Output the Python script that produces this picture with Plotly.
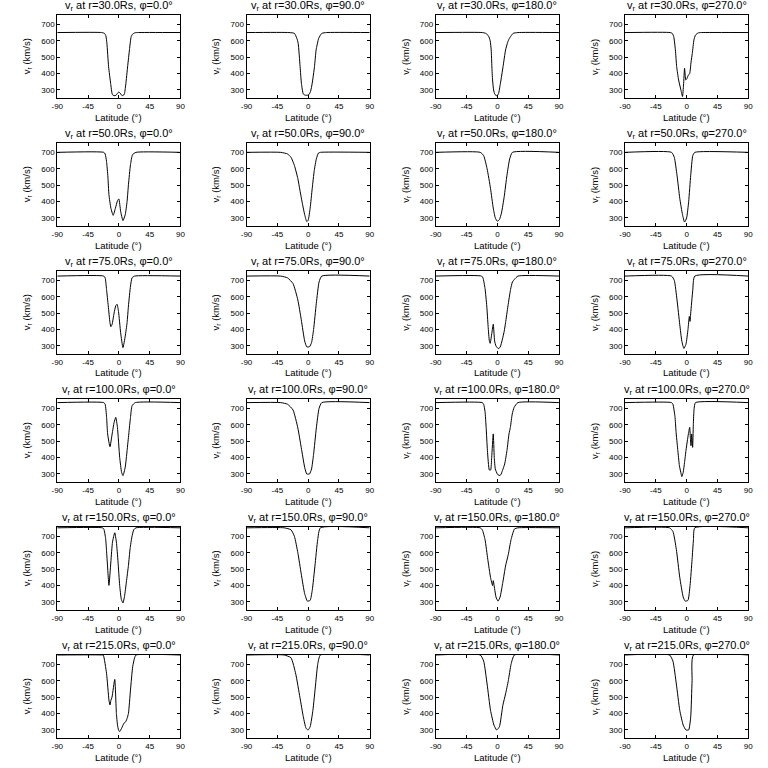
import plotly.graph_objects as go

# ---------------- data ----------------
radii = [30.0, 50.0, 75.0, 100.0, 150.0, 215.0]
phis = [0.0, 90.0, 180.0, 270.0]
x_ticks = [-90, -45, 0, 45, 90]
y_ticks = [300, 400, 500, 600, 700]

# r = 30 Rs
lat_r30_p0 = [-90, -25, -21, -19, -17.5, -15, -12, -9.5, -7, -4, -2, 0, 2, 4, 6, 8, 10, 13, 15.5, 18, 20, 23, 27, 90]
v_r30_p0 = [650, 650, 645, 630, 585, 442, 340, 272, 265, 268, 280, 288, 280, 268, 265, 275, 330, 450, 545, 625, 640, 648, 650, 650]
lat_r30_p90 = [-90, -28, -20, -16.5, -14.5, -11.7, -9.8, -7, -4, -1, 1.2, 3.5, 6, 9.3, 11.7, 15.5, 20, 27, 90]
v_r30_p90 = [650, 650, 645, 615, 584, 442, 341, 275, 268, 268, 272, 290, 341, 442, 544, 615, 645, 650, 650]
lat_r30_p180 = [-90, -22, -17, -13, -10.5, -9, -8, -7, -5.5, -3.5, -1, 1.5, 4.5, 8.3, 12, 15, 17, 20, 23, 30, 90]
v_r30_p180 = [650, 650, 645, 630, 600, 544, 440, 361, 300, 272, 265, 275, 341, 442, 544, 590, 610, 630, 645, 650, 650]
lat_r30_p270 = [-90, -24, -21, -18.8, -16.4, -14.5, -11.7, -8.3, -6, -4.5, -3, -1.2, 0.5, 2.6, 4.5, 6.5, 8.3, 10.7, 13, 17, 22, 90]
v_r30_p270 = [650, 650, 645, 625, 544, 442, 361, 300, 260, 330, 432, 361, 370, 391, 400, 470, 523, 605, 635, 648, 650, 650]

# r = 50 Rs
lat_r50_p0 = [-90, -22, -20, -18, -16, -14.5, -11.7, -8.3, -5, -2, 0, 2.6, 6, 9.3, 12, 14, 17, 20, 25, 90]
v_r50_p0 = [700, 700, 690, 645, 550, 442, 361, 316, 360, 405, 416, 341, 284, 320, 401, 503, 625, 686, 700, 700]
lat_r50_p90 = [-90, -40, -30, -25, -20, -15, -12, -8, -5, -2, 0, 3, 6, 9, 12, 15, 18, 90]
v_r50_p90 = [700, 700, 690, 670, 620, 540, 470, 380, 320, 278, 285, 360, 480, 590, 660, 695, 700, 700]
lat_r50_p180 = [-90, -25, -20, -15, -10, -6, -3, 0, 3, 6, 10, 14, 18, 22, 90]
v_r50_p180 = [700, 700, 680, 600, 480, 360, 300, 280, 290, 330, 430, 560, 660, 700, 700]
lat_r50_p270 = [-90, -22, -18, -14, -10, -6, -3, 0, 3, 6, 9, 12, 90]
v_r50_p270 = [700, 700, 670, 560, 420, 320, 275, 300, 400, 560, 680, 700, 700]

# r = 75 Rs
lat_r75_p0 = [-90, -22, -20, -18, -15.5, -13, -11.7, -10, -7, -4.5, -2.6, -0.5, 2.6, 6, 9.3, 12, 14, 17, 19.3, 23, 90]
v_r75_p0 = [726, 726, 715, 645, 544, 442, 418, 430, 500, 545, 554, 510, 381, 290, 360, 442, 544, 665, 716, 726, 726]
lat_r75_p90 = [-90, -40, -30, -22, -15, -10, -5, -2, 2, 5, 8, 12, 16, 20, 90]
v_r75_p90 = [726, 726, 715, 680, 580, 460, 330, 295, 295, 320, 400, 560, 690, 726, 726]
lat_r75_p180 = [-90, -23, -21, -18, -15.5, -13.5, -11.7, -10.5, -8, -6, -4, -2, 1.2, 4, 7.4, 10, 12, 15.5, 19.3, 22, 25, 30, 90]
v_r75_p180 = [726, 726, 715, 650, 544, 420, 330, 316, 380, 432, 330, 300, 284, 292, 341, 390, 442, 544, 645, 690, 706, 726, 726]
lat_r75_p270 = [-90, -22, -18, -14, -10, -7, -4, -1, 2, 4, 5, 6, 9, 12, 90]
v_r75_p270 = [726, 726, 700, 580, 430, 330, 285, 310, 400, 480, 450, 500, 640, 726, 726]

# r = 100 Rs
lat_r100_p0 = [-90, -22, -20, -17.9, -16.4, -13, -9.8, -6.9, -4.5, -2.1, 1.2, 4, 6, 9.3, 12, 14.5, 17, 19.3, 24, 90]
v_r100_p0 = [735, 735, 725, 645, 544, 466, 544, 615, 645, 584, 401, 310, 290, 341, 442, 544, 645, 716, 735, 735]
lat_r100_p90 = [-90, -40, -30, -22, -15, -10, -5, -2, 2, 5, 8, 12, 16, 20, 90]
v_r100_p90 = [735, 735, 725, 690, 580, 460, 340, 300, 300, 330, 420, 580, 700, 735, 735]
lat_r100_p180 = [-90, -22, -20, -18, -16.4, -14.5, -11.7, -9.8, -8.3, -6, -4.5, -3, 0, 2.5, 5, 7.4, 10.7, 14, 17, 19, 21.7, 24.5, 30, 90]
v_r100_p180 = [735, 735, 725, 680, 584, 442, 324, 324, 400, 544, 400, 330, 300, 290, 295, 320, 361, 442, 544, 584, 665, 706, 735, 735]
lat_r100_p270 = [-90, -22, -20, -17, -15.5, -13, -10.5, -8, -7, -5, -3, -1, 1, 2.6, 4.5, 5.5, 6.4, 7.4, 8.8, 9.8, 11, 13, 90]
v_r100_p270 = [735, 735, 725, 650, 560, 450, 350, 300, 284, 310, 370, 442, 500, 544, 584, 520, 472, 544, 462, 600, 700, 735, 735]

# r = 150 Rs
lat_r150_p0 = [-90, -24, -22, -19.3, -17.9, -16, -14.5, -11.7, -9.3, -6, -3.6, -1.2, 1.2, 3.6, 6, 8.3, 11, 14, 16.4, 19, 21.7, 25, 90]
v_r150_p0 = [752, 752, 745, 686, 605, 483, 401, 544, 665, 722, 665, 544, 401, 316, 294, 335, 422, 523, 625, 696, 740, 752, 752]
lat_r150_p90 = [-90, -35, -25, -20, -15, -10, -5, -1, 3, 6, 10, 14, 18, 90]
v_r150_p90 = [752, 752, 740, 700, 600, 470, 350, 305, 310, 370, 520, 680, 752, 752]
lat_r150_p180 = [-90, -25, -22, -18, -14, -10, -7, -6, -4, -2, 1, 4, 8, 12, 16, 20, 25, 30, 90]
v_r150_p180 = [752, 752, 740, 680, 560, 450, 400, 430, 380, 330, 305, 330, 420, 520, 590, 680, 745, 752, 752]
lat_r150_p270 = [-90, -25, -20, -15, -10, -5, -2, 2, 5, 8, 10, 12, 90]
v_r150_p270 = [752, 752, 730, 620, 450, 330, 305, 310, 400, 560, 680, 752, 752]

# r = 215 Rs
lat_r215_p0 = [-90, -24, -22.6, -18, -14.5, -13, -11.7, -10, -6, -3.6, -2, -0.5, 1, 4, 7.4, 10, 12, 14, 17, 20.2, 23, 25, 90]
v_r215_p0 = [757, 757, 755, 645, 483, 452, 480, 500, 608, 400, 330, 300, 290, 310, 341, 350, 370, 401, 544, 686, 740, 757, 757]
lat_r215_p90 = [-90, -35, -25, -18, -12, -7, -3, 0, 3, 7, 11, 14, 18, 90]
v_r215_p90 = [757, 757, 740, 640, 500, 380, 310, 300, 320, 420, 580, 700, 757, 757]
lat_r215_p180 = [-90, -25, -20, -15, -10, -5, -1, 3, 8, 12, 16, 20, 25, 90]
v_r215_p180 = [757, 757, 720, 580, 420, 330, 300, 320, 450, 520, 600, 700, 757, 757]
lat_r215_p270 = [-90, -25, -20, -15, -10, -5, -1, 3, 6, 8, 10, 90]
v_r215_p270 = [757, 757, 720, 580, 420, 330, 300, 300, 380, 600, 757, 757]

panels = [
    [(lat_r30_p0, v_r30_p0), (lat_r30_p90, v_r30_p90), (lat_r30_p180, v_r30_p180), (lat_r30_p270, v_r30_p270)],
    [(lat_r50_p0, v_r50_p0), (lat_r50_p90, v_r50_p90), (lat_r50_p180, v_r50_p180), (lat_r50_p270, v_r50_p270)],
    [(lat_r75_p0, v_r75_p0), (lat_r75_p90, v_r75_p90), (lat_r75_p180, v_r75_p180), (lat_r75_p270, v_r75_p270)],
    [(lat_r100_p0, v_r100_p0), (lat_r100_p90, v_r100_p90), (lat_r100_p180, v_r100_p180), (lat_r100_p270, v_r100_p270)],
    [(lat_r150_p0, v_r150_p0), (lat_r150_p90, v_r150_p90), (lat_r150_p180, v_r150_p180), (lat_r150_p270, v_r150_p270)],
    [(lat_r215_p0, v_r215_p0), (lat_r215_p90, v_r215_p90), (lat_r215_p180, v_r215_p180), (lat_r215_p270, v_r215_p270)],
]

# ---------------- layout ----------------
W = H = 768
CELL_W, CELL_H = 192, 128
PL, PR, PT, PB = 52, 177, 15, 98   # plot box inside each cell (px)
Y_RANGE = [251, 757]
FONT = "Liberation Sans"
TFONT = "Liberation Sans"

fig = go.Figure()
annotations = []
layout_axes = {}

for r in range(6):
    for c in range(4):
        idx = r * 4 + c + 1
        xa = "x" if idx == 1 else f"x{idx}"
        ya = "y" if idx == 1 else f"y{idx}"
        lat, vel = panels[r][c]
        fig.add_trace(go.Scatter(
            x=lat, y=vel, mode="lines", xaxis=xa, yaxis=ya,
            line=dict(color="black", width=1, shape="spline", smoothing=0.5),
            showlegend=False, hoverinfo="skip",
        ))
        x0 = (c * CELL_W + PL) / W
        x1 = (c * CELL_W + PR) / W
        y1 = 1 - (r * CELL_H + PT) / H
        y0 = 1 - (r * CELL_H + PB) / H
        common = dict(showline=True, linecolor="black", linewidth=1, mirror="allticks",
                      ticks="inside", ticklen=3, tickcolor="black", tickwidth=1,
                      showgrid=False, zeroline=False, fixedrange=True,
                      tickfont=dict(family=FONT, size=8, color="black"))
        xkey = "xaxis" if idx == 1 else f"xaxis{idx}"
        ykey = "yaxis" if idx == 1 else f"yaxis{idx}"
        layout_axes[xkey] = dict(domain=[x0, x1], anchor=ya, range=[-90, 90],
                                 tickmode="array", tickvals=x_ticks,
                                 ticktext=[str(t) for t in x_ticks], **common)
        layout_axes[ykey] = dict(domain=[y0, y1], anchor=xa, range=Y_RANGE,
                                 tickmode="array", tickvals=y_ticks,
                                 ticktext=[str(t) for t in y_ticks], **common)
        cx = (c * CELL_W + (PL + PR) / 2) / W
        annotations.append(dict(
            text=f"v<sub>r</sub> at r={radii[r]:.1f}Rs, \u03c6={phis[c]:.1f}\u00b0",
            x=cx, y=1 - (r * CELL_H + 6) / H, xref="paper", yref="paper",
            xanchor="center", yanchor="middle", showarrow=False,
            font=dict(family=TFONT, size=11, color="black")))
        annotations.append(dict(
            text="Latitude (\u00b0)",
            x=cx, y=1 - (r * CELL_H + 117) / H, xref="paper", yref="paper",
            xanchor="center", yanchor="middle", showarrow=False,
            font=dict(family=FONT, size=9.5, color="black")))
        annotations.append(dict(
            text="v<sub>r</sub> (km/s)", textangle=-90,
            x=(c * CELL_W + 21) / W, y=1 - (r * CELL_H + (PT + PB) / 2) / H,
            xref="paper", yref="paper",
            xanchor="center", yanchor="middle", showarrow=False,
            font=dict(family=FONT, size=9.5, color="black")))

fig.update_layout(
    width=W, height=H, margin=dict(l=0, r=0, t=0, b=0),
    paper_bgcolor="white", plot_bgcolor="white",
    annotations=annotations, **layout_axes,
)

fig.write_html("out.html", config={"displayModeBar": False},
               post_script="document.body.style.margin='0';document.body.style.overflow='hidden';")
